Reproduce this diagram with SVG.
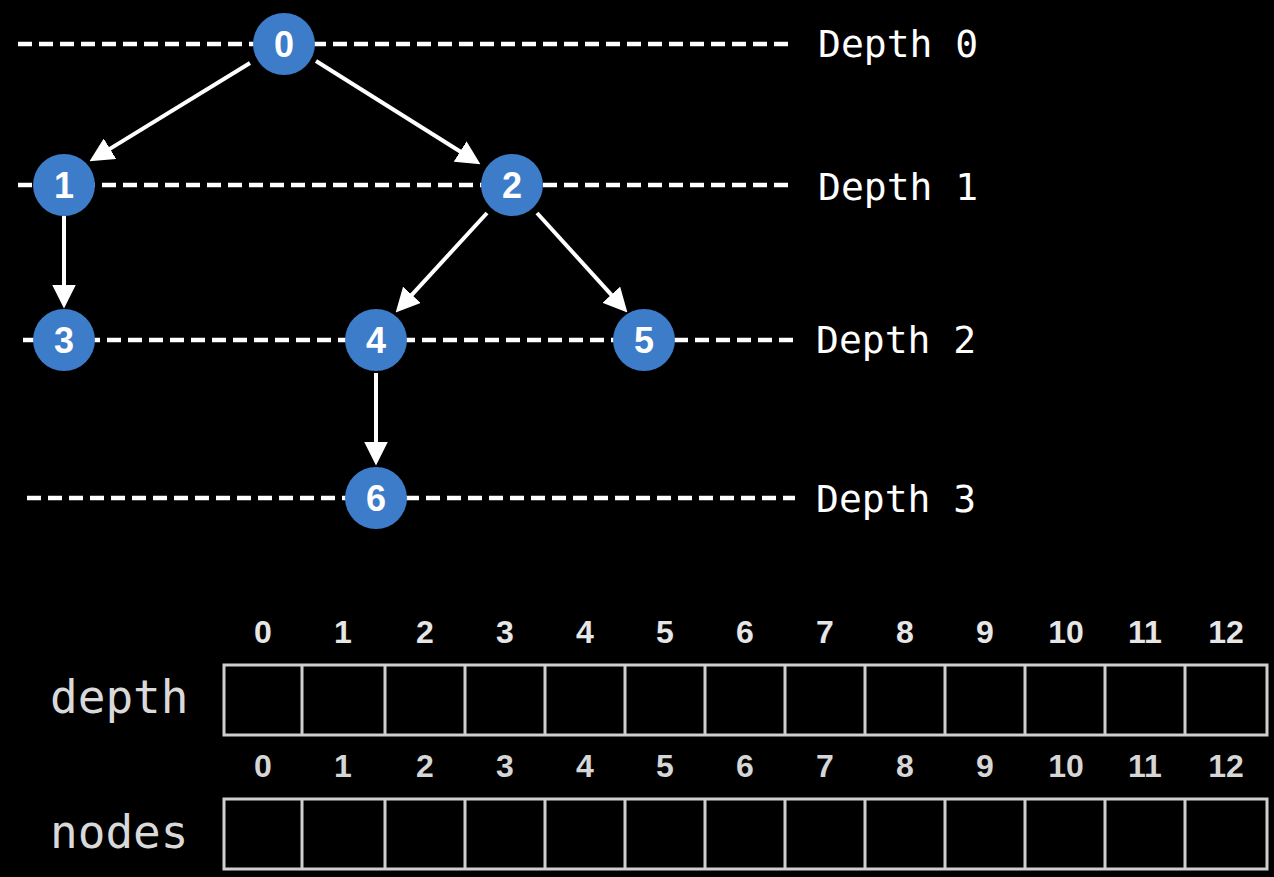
<svg xmlns="http://www.w3.org/2000/svg" width="1274" height="877" viewBox="0 0 1274 877">
<defs>
<style>
.dash{stroke:#ffffff;stroke-width:4.5;stroke-dasharray:14 7;fill:none}
.edge{stroke:#ffffff;stroke-width:4;fill:none;marker-end:url(#ah)}
.node circle{fill:#3d7cc8}
.node text{fill:#ffffff;font-family:"Liberation Sans",Arial,sans-serif;font-weight:bold;font-size:36px;text-anchor:middle}
.dlabel{fill:#ffffff;font-family:"DejaVu Sans Mono",monospace;font-size:38px}
.idx{fill:#e6e6e6;font-family:"Liberation Sans",Arial,sans-serif;font-weight:bold;font-size:32px;text-anchor:middle}
.idx2{fill:#d6d6d6}
.cell{fill:none;stroke:#cfcfcf;stroke-width:3}
.alabel{fill:#d9d9d9;font-family:"DejaVu Sans Mono",monospace;font-size:46px}
</style>
<marker id="ah" markerUnits="userSpaceOnUse" markerWidth="24" markerHeight="24" refX="16" refY="11" orient="auto" viewBox="0 0 22 22">
<path d="M0,0 L22,11 L0,22 z" fill="#ffffff"/>
</marker>
</defs>
<rect width="1274" height="877" fill="#000000"/>

<g id="depth-lines">
<line class="dash" x1="18" y1="44" x2="790" y2="44"/>
<line class="dash" x1="18" y1="185" x2="790" y2="185"/>
<line class="dash" x1="23" y1="340" x2="795" y2="340"/>
<line class="dash" x1="27" y1="498" x2="795" y2="498"/>
<text class="dlabel" x="818" y="57">Depth 0</text>
<text class="dlabel" x="818" y="200">Depth 1</text>
<text class="dlabel" x="816" y="353">Depth 2</text>
<text class="dlabel" x="816" y="512">Depth 3</text>
</g>

<g id="connectors">
<line class="edge" x1="250" y1="63" x2="95.1" y2="157.9"/>
<line class="edge" x1="316" y1="61" x2="474.9" y2="160.8"/>
<line class="edge" x1="64" y1="216" x2="64" y2="302"/>
<line class="edge" x1="487" y1="213" x2="400.1" y2="307.6"/>
<line class="edge" x1="537" y1="213" x2="623" y2="307.6"/>
<line class="edge" x1="376" y1="373" x2="376" y2="459"/>
</g>

<g id="node0" class="node"><circle cx="284" cy="44" r="31"/><text x="284" y="57">0</text></g>
<g id="node1" class="node"><circle cx="64" cy="185" r="31"/><text x="64" y="198">1</text></g>
<g id="node2" class="node"><circle cx="512" cy="185" r="31"/><text x="512" y="198">2</text></g>
<g id="node3" class="node"><circle cx="64" cy="340" r="31"/><text x="64" y="353">3</text></g>
<g id="node4" class="node"><circle cx="376" cy="340" r="31"/><text x="376" y="353">4</text></g>
<g id="node5" class="node"><circle cx="644" cy="340" r="31"/><text x="644" y="353">5</text></g>
<g id="node6" class="node"><circle cx="376" cy="498" r="31"/><text x="376" y="511">6</text></g>

<g id="depth-array">
<text class="alabel" x="50" y="713">depth</text>
<g class="idx">
<text x="263" y="643">0</text><text x="343" y="643">1</text><text x="425" y="643">2</text><text x="505" y="643">3</text><text x="585" y="643">4</text><text x="665" y="643">5</text><text x="745" y="643">6</text><text x="825" y="643">7</text><text x="905" y="643">8</text><text x="985" y="643">9</text><text x="1066" y="643">10</text><text x="1145" y="643">11</text><text x="1226" y="643">12</text>
</g>
<rect class="cell" x="224" y="665" width="1043" height="70"/>
<path class="cell" d="M302,665V735M385,665V735M465,665V735M545,665V735M625,665V735M705,665V735M785,665V735M865,665V735M945,665V735M1025,665V735M1105,665V735M1185,665V735"/>
</g>

<g id="nodes-array">
<text class="alabel" x="50" y="848">nodes</text>
<g class="idx idx2">
<text x="263" y="777">0</text><text x="343" y="777">1</text><text x="425" y="777">2</text><text x="505" y="777">3</text><text x="585" y="777">4</text><text x="665" y="777">5</text><text x="745" y="777">6</text><text x="825" y="777">7</text><text x="905" y="777">8</text><text x="985" y="777">9</text><text x="1066" y="777">10</text><text x="1145" y="777">11</text><text x="1226" y="777">12</text>
</g>
<rect class="cell" x="224" y="799" width="1043" height="70"/>
<path class="cell" d="M302,799V869M385,799V869M465,799V869M545,799V869M625,799V869M705,799V869M785,799V869M865,799V869M945,799V869M1025,799V869M1105,799V869M1185,799V869"/>
</g>
</svg>
